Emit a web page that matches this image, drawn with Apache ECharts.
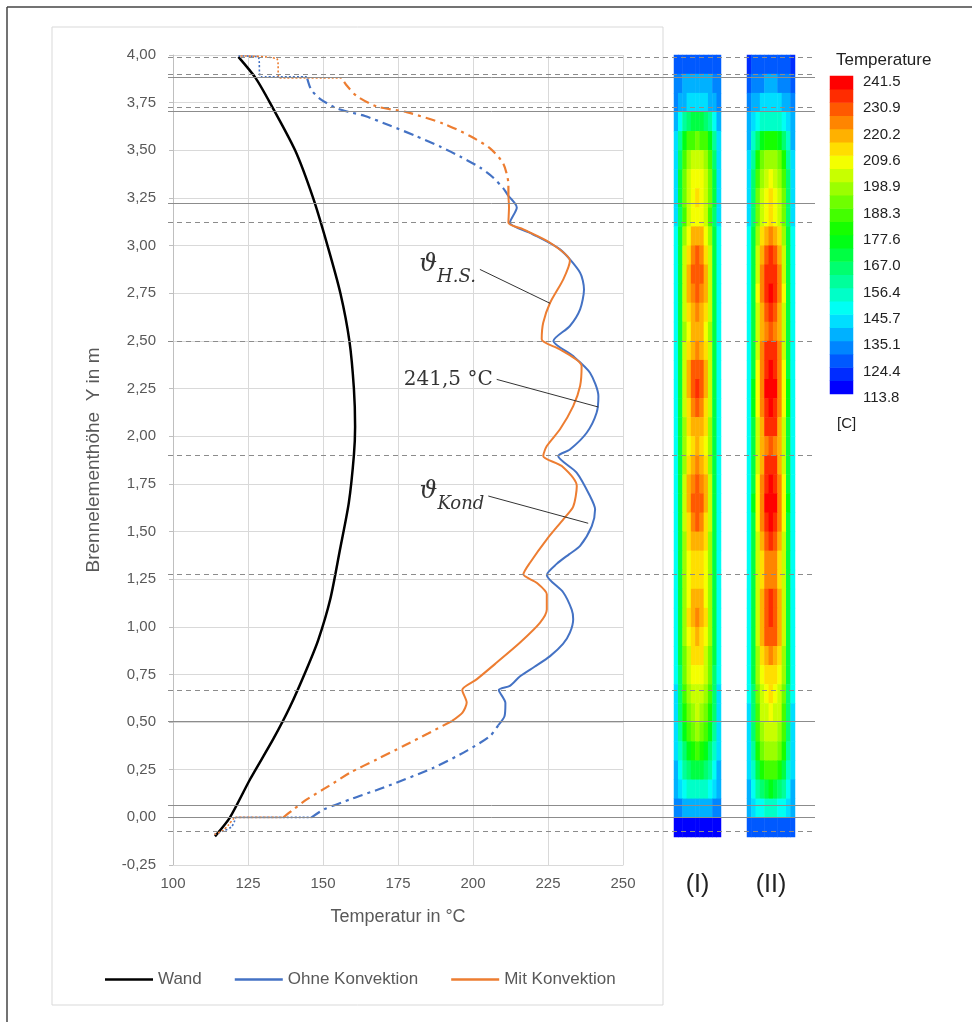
<!DOCTYPE html>
<html><head><meta charset="utf-8">
<script src="https://cdn.jsdelivr.net/npm/echarts@6/dist/echarts.min.js"></script>
<style>html,body{margin:0;padding:0;background:#fff}#c{width:978px;height:1025px}</style>
</head><body><div id="c"></div>
<script>
// ---------- data: temperature profiles [T in °C, Y in m] ----------
const wand = [[114,-0.1],[119,0],[125.7,0.2],[133.4,0.41],[139,0.58],[144.6,0.78],[148.4,0.93],[152.5,1.15],[155.6,1.4],[158.6,1.65],[160.3,1.9],[160.7,2.05],[160.3,2.25],[158.8,2.5],[155.8,2.75],[151.5,3.0],[146.7,3.25],[140.7,3.5],[132.3,3.75],[127.5,3.88],[121.8,3.99]];

const ohneSolid = [[208.4,0.483],[210.5,0.53],[210.8,0.6],[208.6,0.668],[212.3,0.69],[215.7,0.74],[220.5,0.79],[225.7,0.846],[230,0.91],[232.3,0.969],[233.4,1.04],[232.9,1.09],[230.1,1.18],[224.6,1.272],[227.9,1.33],[232,1.38],[235.7,1.424],[239.6,1.528],[240.7,1.616],[239,1.686],[234.6,1.808],[228.4,1.896],[232.3,1.93],[237.9,2.018],[241.2,2.123],[241.8,2.21],[239,2.333],[233.4,2.42],[226.8,2.5],[232.3,2.578],[235.7,2.665],[237,2.77],[235.7,2.858],[229,2.98],[219,3.067],[212.3,3.12],[214.6,3.2],[211.8,3.26]];
const ohneDashLow = [[146.2,0],[150.1,0.04],[160,0.1],[170,0.155],[186.8,0.26],[198,0.35],[205.7,0.427],[208.4,0.483]];
const ohneDashTop = [[211.8,3.26],[210.1,3.30],[206.5,3.36],[202.3,3.41],[196,3.465],[189,3.52],[181,3.575],[172.3,3.63],[164,3.68],[159,3.70],[154.6,3.72],[149,3.77],[146,3.82],[144.6,3.885]];
const ohneDotLow = [[113.8,-0.09],[117,-0.07],[119.5,-0.05],[120.5,-0.02],[121,0],[146.2,0]];
const ohneDotTop = [[144.6,3.885],[129.3,3.885],[128.3,3.99],[121.8,3.995]];

const mitSolid = [[192.9,0.505],[196.5,0.55],[197.9,0.602],[196.4,0.668],[201.2,0.724],[207.9,0.812],[215.7,0.917],[222.3,1.02],[224.6,1.09],[224.6,1.17],[221.2,1.231],[216.8,1.275],[219,1.336],[224.6,1.459],[230.1,1.564],[233.4,1.63],[234.6,1.738],[229.6,1.843],[223.4,1.896],[224.6,1.948],[229,2.036],[233.4,2.158],[235.7,2.263],[236.2,2.368],[229,2.455],[222.9,2.508],[223.4,2.595],[225.7,2.70],[230.1,2.823],[232.3,2.92],[225.7,3.015],[216.8,3.085],[211.8,3.12],[212,3.2],[211.8,3.26]];
const mitDashLow = [[136.8,0],[140,0.04],[144.6,0.094],[152,0.165],[159,0.234],[168,0.305],[176.8,0.374],[185,0.44],[192.9,0.505]];
const mitDashTop = [[211.8,3.26],[211.8,3.32],[210.1,3.43],[205.7,3.51],[199,3.575],[190.1,3.64],[177.9,3.70],[167.9,3.73],[161.2,3.785],[157.9,3.84],[156.2,3.88]];
const mitDotLow = [[113.8,-0.09],[116.5,-0.07],[118.5,-0.04],[120,-0.01],[121,0],[136.8,0]];
const mitDotTop = [[156.2,3.88],[135.5,3.88],[134.6,3.98],[121.8,3.995]];

// horizontal reference levels (m)
const refSolid = [3.882, 3.704, 3.221, 0.505, 0.066, 0.0];
const refDashed = [3.987, 3.898, 3.725, 3.122, 2.499, 1.90, 1.275, 0.666, -0.072];

// annotations
const annotTexts = [['ϑ','H.S.'], ['241,5 °C'], ['ϑ','Kond']];
const annotFrom = [[202.3,2.875],[207.9,2.298],[205.1,1.686]];
const annotTo = [[225.7,2.697],[241.8,2.153],[238.4,1.543]];

// colour legend
const colorTicks = ['113.8','124.4','135.1','145.7','156.4','167.0','177.6','188.3','198.9','209.6','220.2','230.9','241.5'];
const tMin = 113.8, tMax = 241.5;

// contour fields, rows top (Y=3.95) to bottom (Y=-0.05), half profile wall -> centre
const fieldI = [
[125,126,127,127,127,127],
[131,134,136,137,138,138],
[134,137,140,142,143,143],
[140,150,158,164,168,170],
[143,160,174,184,188,190],
[145,165,184,196,201,203],
[145,168,190,202,207,209],
[145,168,192,204,209,211],
[145,166,188,200,206,207],
[146,170,196,209,216,219],
[146,171,200,214,223,227],
[146,171,202,216,226,230],
[146,171,201,215,224,228],
[146,170,199,212,220,223],
[146,169,197,209,216,218],
[146,170,199,212,220,222],
[146,171,202,216,226,230],
[146,171,202,217,227,231],
[146,171,200,214,223,226],
[146,170,198,211,218,220],
[146,169,196,208,214,216],
[146,170,198,211,219,222],
[146,171,202,216,225,229],
[146,171,202,217,227,230],
[146,171,200,214,223,226],
[146,170,198,210,217,220],
[146,168,195,207,212,214],
[146,168,195,206,211,213],
[146,169,197,209,216,219],
[146,170,198,210,218,222],
[146,169,196,208,214,217],
[146,168,193,204,210,212],
[146,166,189,200,206,208],
[145,164,185,197,202,204],
[145,162,181,192,198,200],
[144,158,175,186,192,194],
[142,154,167,177,182,184],
[140,150,159,166,170,172],
[138,143,148,152,155,156],
[132,135,137,139,140,140],
[116,116,117,117,117,117]];
const fieldII = [
[124,125,125,126,126,126],
[128,132,134,135,136,136],
[132,137,140,142,142,142],
[136,142,148,152,155,156],
[140,152,165,174,178,180],
[143,160,178,190,196,198],
[145,165,186,198,204,206],
[145,167,190,203,208,210],
[145,167,190,204,209,211],
[146,170,198,212,220,223],
[146,172,203,218,228,231],
[146,172,204,221,231,235],
[146,172,205,222,233,237],
[146,172,203,219,229,233],
[146,171,201,215,224,227],
[146,172,204,221,231,235],
[146,172,206,224,235,239],
[146,173,207,225,237,241],
[146,173,206,224,236,239],
[146,172,204,220,231,234],
[146,171,201,215,225,228],
[146,172,204,220,231,235],
[146,172,206,224,235,239],
[146,173,207,225,237,241],
[146,172,206,223,234,238],
[146,172,203,219,229,232],
[146,170,199,213,222,225],
[146,170,199,213,221,224],
[146,171,202,218,227,231],
[146,172,203,219,230,233],
[146,171,201,216,226,229],
[146,170,198,211,219,222],
[146,168,194,206,212,214],
[146,167,191,202,208,210],
[145,165,188,199,204,206],
[145,163,184,195,201,203],
[144,160,178,189,195,197],
[143,156,170,180,185,187],
[140,150,160,167,171,173],
[136,141,146,150,152,153],
[125,125,126,126,127,127]];

// ---------- build ----------
function buildHeat(rows){
  const n = rows.length, out = [];
  rows.forEach((half,i)=>{
    const full = half.concat(half.slice(0,-1).reverse());
    full.forEach((v,j)=>out.push([j, n-1-i, v]));
  });
  return out;
}
const nRows = fieldI.length, nCols = fieldI[0].length*2-1;
const colCats = Array.from({length:nCols},(_,i)=>String(i));
const rowCats = Array.from({length:nRows},(_,i)=>String(i));
const nBands = 24;
const bandCats = Array.from({length:nBands},(_,i)=>String(i));
const bandData = bandCats.map((_,k)=>[0,k,tMin+(k+0.5)*(tMax-tMin)/nBands]);

const FONT = 'Liberation Sans';
const GREY = '#595959';
const BLUE = '#4472C4', ORANGE = '#ED7D31';
const DASHDOT = [10,5,3,5];

function lineSeries(name, data, color, type, width){
  return {name, type:'line', xAxisIndex:0, yAxisIndex:0, data, showSymbol:false, symbol:'none',
    smooth:0.25, lineStyle:{color, width, type}, itemStyle:{color}, z:4, silent:true};
}
const serif = 'DejaVu Serif';
const option = {
  animation:false,
  backgroundColor:'#fff',
  graphic:[
    {type:'rect', shape:{x:52,y:27,width:611,height:978}, style:{fill:'none',stroke:'#d9d9d9',lineWidth:1}, z:-1},
    {type:'line', shape:{x1:7,y1:7,x2:972,y2:7}, style:{stroke:'#444',lineWidth:1.5}},
    {type:'line', shape:{x1:7,y1:7,x2:7,y2:1022}, style:{stroke:'#444',lineWidth:1.5}}
  ],
  title:[
    {text:'Temperature', left:831, top:47, textStyle:{fontFamily:FONT,fontSize:17,fontWeight:'normal',color:'#222'}},
    {text:'[C]', left:832, top:411, textStyle:{fontFamily:FONT,fontSize:15,fontWeight:'normal',color:'#222'}}
  ],
  legend:{data:['Wand','Ohne Konvektion','Mit Konvektion'], left:100, top:966, icon:'rect', itemWidth:48, itemHeight:2.5, itemGap:33,
    textStyle:{fontFamily:FONT,fontSize:17,color:GREY}, selectedMode:false},
  visualMap:{type:'piecewise', show:false, min:tMin, max:tMax, splitNumber:nBands, seriesIndex:[12,13,14],
    inRange:{color:['#0000ff','#00ffff','#00ff00','#ffff00','#ff0000']}},
  grid:[
    {left:173, top:55, width:450, height:810},
    {left:674, top:55, width:47, height:782},
    {left:747, top:55, width:48, height:782},
    {left:830, top:76, width:23, height:318},
    {left:168, top:55, width:647, height:810},
    {left:830, top:82, width:23, height:316}
  ],
  xAxis:[
    {gridIndex:0, type:'value', min:100, max:250, interval:25, name:'Temperatur in °C', nameLocation:'middle', nameGap:43,
      nameTextStyle:{fontFamily:FONT,fontSize:18,color:GREY},
      axisLine:{show:true,onZero:false,lineStyle:{color:'#d9d9d9'}}, axisTick:{show:false},
      axisLabel:{fontFamily:FONT,fontSize:15,color:GREY,margin:11},
      splitLine:{show:true,lineStyle:{color:'#d9d9d9',width:1}}},
    {gridIndex:1, type:'category', data:colCats, name:'(I)', nameLocation:'middle', nameGap:36,
      nameTextStyle:{fontFamily:FONT,fontSize:25,color:'#222'},
      axisLine:{show:false}, axisTick:{show:false}, axisLabel:{show:false}, splitLine:{show:false}},
    {gridIndex:2, type:'category', data:colCats, name:'(II)', nameLocation:'middle', nameGap:36,
      nameTextStyle:{fontFamily:FONT,fontSize:25,color:'#222'},
      axisLine:{show:false}, axisTick:{show:false}, axisLabel:{show:false}, splitLine:{show:false}},
    {gridIndex:3, type:'category', data:['c'], show:false},
    {gridIndex:4, type:'value', min:0, max:1, show:false},
    {gridIndex:5, type:'value', min:0, max:1, show:false}
  ],
  yAxis:[
    {gridIndex:0, type:'value', min:-0.25, max:4, interval:0.25, name:'Brennelementhöhe  Y in m', nameLocation:'middle', nameGap:70,
      nameTextStyle:{fontFamily:FONT,fontSize:19,color:GREY},
      axisLine:{show:true,lineStyle:{color:'#bfbfbf'}}, axisTick:{show:true,length:4,lineStyle:{color:'#bfbfbf'}},
      axisLabel:{fontFamily:FONT,fontSize:15,color:GREY,margin:17, formatter:v=>v.toFixed(2).replace('.',',')},
      splitLine:{show:true,lineStyle:{color:'#d9d9d9',width:1}}},
    {gridIndex:1, type:'category', data:rowCats, show:false},
    {gridIndex:2, type:'category', data:rowCats, show:false},
    {gridIndex:3, type:'category', data:bandCats, show:false},
    {gridIndex:5, type:'value', min:0, max:colorTicks.length-1, interval:1, position:'right',
      axisLine:{show:false}, axisTick:{show:false}, splitLine:{show:false},
      axisLabel:{fontFamily:FONT,fontSize:15,color:'#222',margin:10,
        formatter:v=>colorTicks[Math.round(v)]}},
    {gridIndex:4, type:'value', min:-0.25, max:4, show:false}
  ],
  series:[
    lineSeries('Wand', wand, '#000', 'solid', 2.5),
    lineSeries('Ohne Konvektion', ohneSolid, BLUE, 'solid', 2),
    lineSeries('Mit Konvektion', mitSolid, ORANGE, 'solid', 2),
    lineSeries('Ohne Konvektion', ohneDashLow, BLUE, DASHDOT, 2.2),
    lineSeries('Ohne Konvektion', ohneDashTop, BLUE, DASHDOT, 2.2),
    lineSeries('Ohne Konvektion', ohneDotLow, BLUE, [2,2], 1.6),
    lineSeries('Ohne Konvektion', ohneDotTop, BLUE, [2,2], 1.6),
    lineSeries('Mit Konvektion', mitDashLow, ORANGE, DASHDOT, 2.2),
    lineSeries('Mit Konvektion', mitDashTop, ORANGE, DASHDOT, 2.2),
    lineSeries('Mit Konvektion', mitDotLow, ORANGE, [2,2], 1.6),
    lineSeries('Mit Konvektion', mitDotTop, ORANGE, [2,2], 1.6),
    {type:'scatter', xAxisIndex:0, yAxisIndex:0, silent:true, z:6, symbolSize:2, itemStyle:{color:'rgba(0,0,0,0)'},
      data:annotFrom.map(p=>({value:p})),
      label:{show:true, position:'left', distance:3, color:'#000',
        formatter:p=>{const t=annotTexts[p.dataIndex]; return t.length>1?('{t|'+t[0]+'}{s|'+t[1]+'}'):('{n|'+t[0]+'}');},
        rich:{t:{fontFamily:serif,fontStyle:'italic',fontSize:25,color:'#000',lineHeight:34,verticalAlign:'top'},
              s:{fontFamily:serif,fontStyle:'italic',fontSize:18,color:'#000',lineHeight:34,verticalAlign:'bottom'},
              n:{fontFamily:serif,fontSize:20,color:'#000'}}}},
    {type:'heatmap', xAxisIndex:1, yAxisIndex:1, data:buildHeat(fieldI), silent:true, itemStyle:{borderWidth:0}},
    {type:'heatmap', xAxisIndex:2, yAxisIndex:2, data:buildHeat(fieldII), silent:true, itemStyle:{borderWidth:0}},
    {type:'heatmap', xAxisIndex:3, yAxisIndex:3, data:bandData, silent:true, itemStyle:{borderWidth:0}},
    {type:'lines', coordinateSystem:'cartesian2d', xAxisIndex:4, yAxisIndex:5, silent:true, z:5,
      data:refSolid.map(v=>({coords:[[0,v],[1,v]]})), lineStyle:{color:'#8c8c8c',width:1,type:'solid',opacity:1}},
    {type:'lines', coordinateSystem:'cartesian2d', xAxisIndex:4, yAxisIndex:5, silent:true, z:5,
      data:refDashed.map(v=>({coords:[[0,v],[1,v]]})), lineStyle:{color:'#8c8c8c',width:1,type:[5,4],opacity:1}},
    {type:'lines', coordinateSystem:'cartesian2d', xAxisIndex:0, yAxisIndex:0, silent:true, z:6,
      data:annotFrom.map((p,i)=>({coords:[p, annotTo[i]]})), lineStyle:{color:'#333',width:1,type:'solid',opacity:1}}
  ]
};
const chart = echarts.init(document.getElementById('c'), null, {renderer:'canvas'});
chart.setOption(option);
</script></body></html>
